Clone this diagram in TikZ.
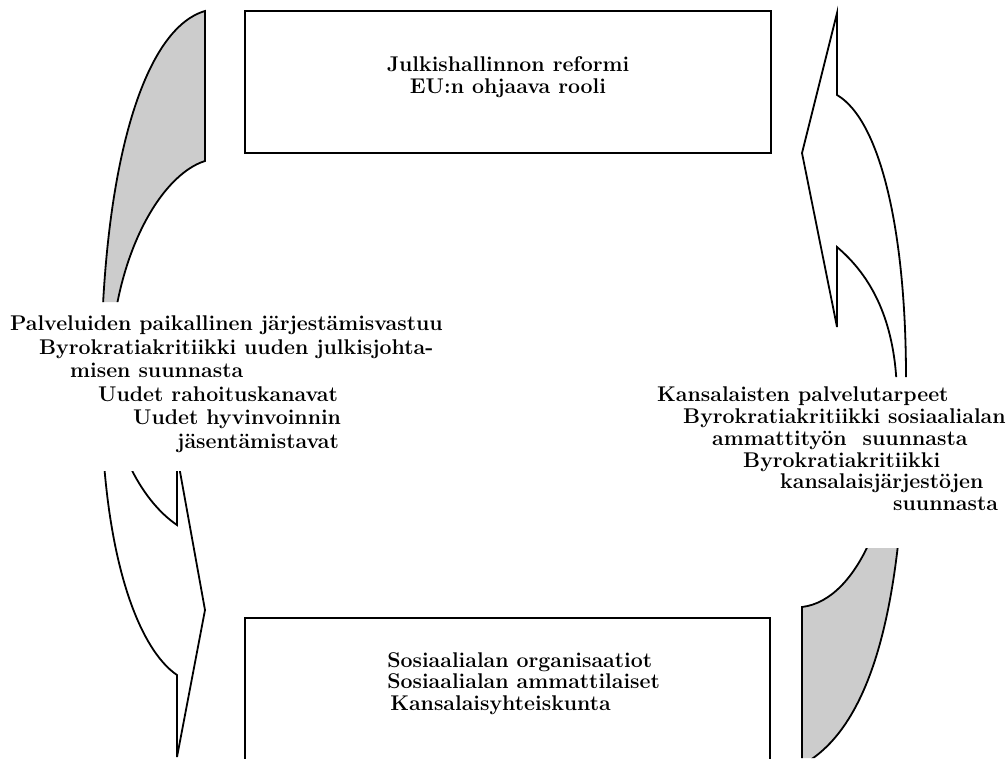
\documentclass[tikz,border=0pt]{standalone}
\usetikzlibrary{positioning}
\definecolor{backgrey}{RGB}{204,204,204}
\tikzset{block/.style={draw, rectangle, line width=1.8pt, fill=white}}
\tikzset{info/.style={font=\fontsize{21.3}{21.7}\selectfont\bfseries, inner sep=0pt}}
\tikzset{curvearrow/.style={draw, line width=1.8pt, line join=miter}}

\begin{document}
\begin{tikzpicture}[x=1pt,y=-1pt]

\useasboundingbox (0,0) rectangle (1008,758);
\clip (0,0) rectangle (1008,758);

%top block
\node[block,minimum width=526pt,minimum height=142pt] (reform) at (508,82) { };
\node[info,align=center] (reformtxt) at ([yshift=-67pt]reform.north) {Julkishallinnon reformi\\EU:n ohjaava rooli};

%bottom block
\node[block,minimum width=525pt,minimum height=200pt] (actors) at (507.5,718) { };
\node[info,align=left,anchor=north west] (actorstxt) at ([xshift=143pt,yshift=-35pt]actors.north west) {Sosiaalialan organisaatiot\\Sosiaalialan ammattilaiset\\\hspace*{3pt}Kansalaisyhteiskunta};

%left curved arrow
\begin{scope}
\clip (0,0) rectangle (240,302) (0,471) rectangle (240,758);
\fill[backgrey] (205,11) .. controls (140,30) and (100,180) .. (101,390) -- (110,380) .. controls (110,260) and (160,175) .. (205,161) -- cycle;
\path[curvearrow] (205,11) .. controls (140,30) and (100,180) .. (101,390) .. controls (102,560) and (140,650) .. (177,675) -- (177,757) -- (205,610) -- (177,455) -- (177,525) .. controls (140,500) and (110,440) .. (110,380) .. controls (110,260) and (160,175) .. (205,161) -- cycle;
\end{scope}

%right curved arrow
\begin{scope}
\clip (780,0) rectangle (1008,377) (780,548) rectangle (1008,758);
\fill[backgrey] (802,765) .. controls (885,720) and (906,560) .. (906,378) -- (897,400) .. controls (897,500) and (860,600) .. (802,607) -- cycle;
\path[curvearrow] (802,765) .. controls (885,720) and (906,560) .. (906,378) .. controls (906,230) and (880,120) .. (837,95) -- (837,13) -- (802,153) -- (837,327) -- (837,247) .. controls (870,275) and (897,320) .. (897,400) .. controls (897,500) and (860,600) .. (802,607) -- cycle;
\end{scope}

%texts beside the arrows
\node[info,font=\fontsize{21.3}{23.5}\selectfont\bfseries,align=left,anchor=north west] (leftinfo) at (10,316) {Palveluiden paikallinen järjestämisvastuu\\\hspace*{29pt}Byrokratiakritiikki uuden julkisjohta-\\\hspace*{60pt}misen suunnasta\\\hspace*{88pt}Uudet rahoituskanavat\\\hspace*{123pt}Uudet hyvinvoinnin\\\hspace*{167pt}jäsentämistavat};
\node[info,align=left,anchor=north west] (rightinfo) at (657,387) {Kansalaisten palvelutarpeet\\\hspace*{26pt}Byrokratiakritiikki sosiaalialan\\\hspace*{55pt}ammattityön\ \ suunnasta\\\hspace*{86pt}Byrokratiakritiikki\\\hspace*{123pt}kansalaisjärjestöjen\\\hspace*{236pt}suunnasta};

\end{tikzpicture}
\end{document}
